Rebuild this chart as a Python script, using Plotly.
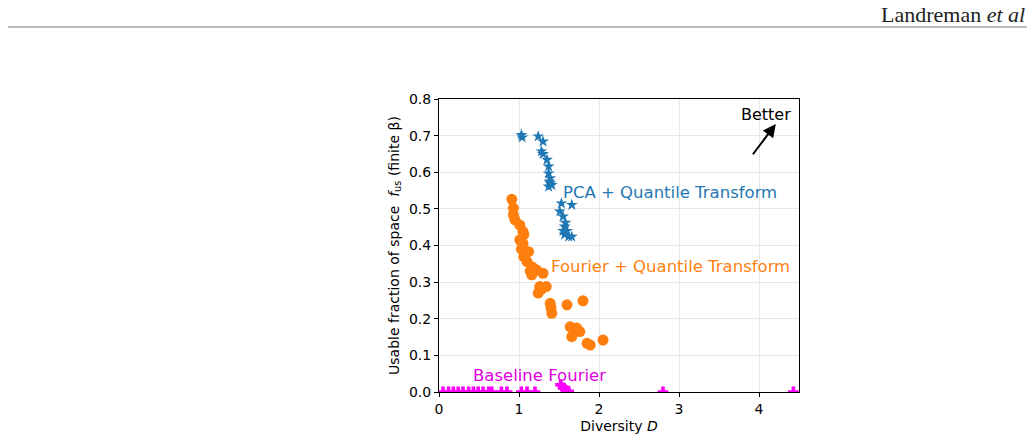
import plotly.graph_objects as go

# PCA + Quantile Transform (stars)
pca_D = [1.03, 1.04, 1.24, 1.30, 1.28, 1.30, 1.35, 1.37, 1.37, 1.39, 1.39, 1.37, 1.41, 1.38,
         1.53, 1.66, 1.51, 1.55, 1.57, 1.57, 1.62, 1.66, 1.55, 1.60, 1.58]
pca_f = [0.702, 0.695, 0.698, 0.684, 0.657, 0.650, 0.634, 0.616, 0.597, 0.584, 0.570, 0.561, 0.565, 0.575,
         0.515, 0.511, 0.493, 0.479, 0.452, 0.430, 0.424, 0.424, 0.440, 0.440, 0.462]

# Fourier + Quantile Transform (circles)
fou_D = [0.91, 0.93, 0.93, 0.95, 1.01, 1.05, 1.06, 1.01, 1.05, 1.03, 1.08, 1.12, 1.06, 1.10,
         1.16, 1.14, 1.18, 1.22, 1.30, 1.16, 1.26, 1.34, 1.24, 1.28, 1.39, 1.60, 1.80, 1.40,
         1.41, 1.64, 1.72, 1.66, 1.76, 1.85, 1.89, 2.05]
fou_f = [0.526, 0.502, 0.484, 0.470, 0.456, 0.438, 0.430, 0.415, 0.405, 0.390, 0.383, 0.383, 0.370, 0.356,
         0.342, 0.330, 0.338, 0.333, 0.324, 0.320, 0.288, 0.288, 0.270, 0.280, 0.242, 0.238, 0.249, 0.230,
         0.215, 0.178, 0.175, 0.151, 0.165, 0.133, 0.128, 0.142]

# Baseline Fourier (plus markers)
base_D = [0.05, 0.12, 0.18, 0.24, 0.30, 0.37, 0.43, 0.49, 0.55, 0.62, 0.66, 0.78, 0.85,
          1.03, 1.10, 1.20, 1.52, 1.55, 1.58, 1.62, 2.80, 4.43]
base_f = [0.0, 0.0, 0.0, 0.0, 0.0, 0.0, 0.0, 0.0, 0.0, 0.0, 0.0, 0.0, 0.0,
          0.0, 0.0, 0.0, 0.02, 0.012, 0.006, 0.002, 0.0, 0.0]

x_ticks = [0, 1, 2, 3, 4]
y_ticks = [0.0, 0.1, 0.2, 0.3, 0.4, 0.5, 0.6, 0.7, 0.8]

BLUE = "#1f77b4"
ORANGE = "#ff7f0e"
MAGENTA = "#ff00ff"
FONT = "DejaVu Sans"

fig = go.Figure()
fig.add_trace(go.Scatter(x=base_D, y=base_f, mode="markers",
                         marker=dict(symbol="cross", size=9, color=MAGENTA), cliponaxis=True))
fig.add_trace(go.Scatter(x=fou_D, y=fou_f, mode="markers",
                         marker=dict(symbol="circle", size=11, color=ORANGE), cliponaxis=True))
fig.add_trace(go.Scatter(x=pca_D, y=pca_f, mode="markers",
                         marker=dict(symbol="star", size=9, color=BLUE), cliponaxis=True))

ann = [
    dict(x=2.89, y=0.546, text="PCA + Quantile Transform", font=dict(color=BLUE, size=16.5)),
    dict(x=2.89, y=0.344, text="Fourier + Quantile Transform", font=dict(color=ORANGE, size=16.5)),
    dict(x=1.26, y=0.044, text="Baseline Fourier", font=dict(color="#dd00dd", size=16.5)),
    dict(x=4.09, y=0.757, text="Better", font=dict(color="black", size=16)),
]
for a in ann:
    fig.add_annotation(xref="x", yref="y", showarrow=False, font_family=FONT, **a)

fig.add_annotation(xref="x", yref="y", axref="x", ayref="y", x=4.21, y=0.732, ax=3.91, ay=0.645,
                   showarrow=True, arrowhead=2, arrowsize=1.3, arrowwidth=2, arrowcolor="black", text="")

# page header
fig.add_annotation(xref="paper", yref="paper", x=1.633, y=1.29, xanchor="right", yanchor="middle",
                   showarrow=False, text="Landreman <i>et al</i>",
                   font=dict(family="Liberation Serif", size=22, color="#222222"))
fig.add_shape(type="line", xref="paper", yref="paper", x0=-1.197, x1=1.633, y0=1.2457, y1=1.2457,
              line=dict(color="#777777", width=1))

axis_common = dict(showline=True, linecolor="black", linewidth=1, mirror=True,
                   ticks="outside", ticklen=4, tickcolor="black",
                   showgrid=True, gridcolor="#e8e8e8", gridwidth=1, zeroline=False,
                   tickfont=dict(family=FONT, size=14, color="black"))

fig.update_xaxes(range=[0, 4.5], tickvals=x_ticks, ticktext=[str(t) for t in x_ticks],
                 title=dict(text="Diversity <i>D</i>", font=dict(family=FONT, size=14, color="black"), standoff=5),
                 **axis_common)
fig.update_yaxes(range=[0, 0.8], tickvals=y_ticks, ticktext=[f"{t:.1f}" for t in y_ticks],
                 title=dict(text="Usable fraction of space  <i>f</i><sub>us</sub> (finite β)",
                            font=dict(family=FONT, size=14, color="black"), standoff=6),
                 **axis_common)

fig.update_layout(width=1034, height=441, showlegend=False,
                  margin=dict(l=439, r=235, t=99, b=49, autoexpand=False),
                  paper_bgcolor="white", plot_bgcolor="white",
                  font=dict(family=FONT))

fig.write_html("out.html")
